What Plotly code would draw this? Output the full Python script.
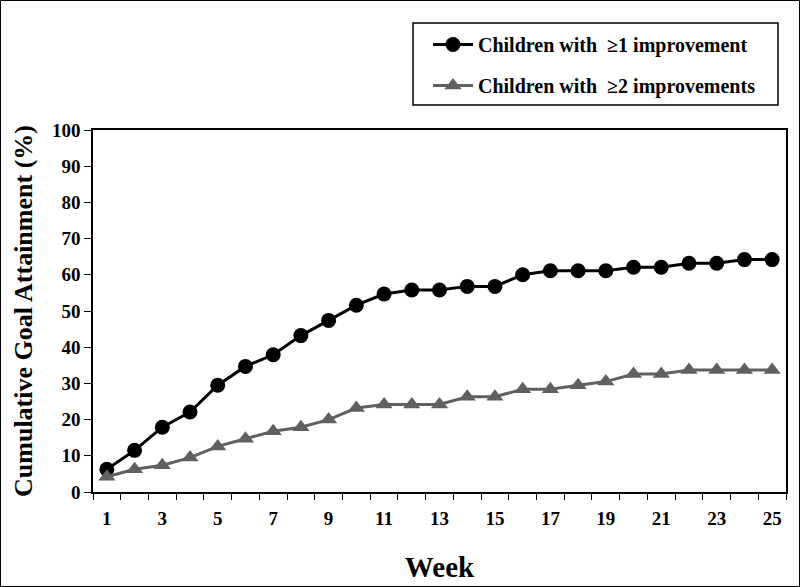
import plotly.graph_objects as go

weeks = list(range(1, 26))
one_improvement = [6.3, 11.5, 17.9, 22.1, 29.5, 34.7, 37.9, 43.2, 47.4, 51.6, 54.7, 55.8, 55.8,
                   56.8, 56.8, 60.0, 61.1, 61.1, 61.1, 62.1, 62.1, 63.2, 63.2, 64.2, 64.2]
two_improvements = [4.2, 6.3, 7.4, 9.5, 12.6, 14.7, 16.8, 17.9, 20.0, 23.2, 24.2, 24.2, 24.2,
                    26.3, 26.3, 28.4, 28.4, 29.5, 30.5, 32.6, 32.6, 33.7, 33.7, 33.7, 33.7]
series_names = ["Children with \u00a0\u22651 improvement", "Children with \u00a0\u22652 improvements"]
x_tick_labels = [str(w) for w in range(1, 26, 2)]
y_tick_vals = list(range(0, 101, 10))

FONT = "Liberation Serif"

fig = go.Figure()
fig.add_trace(go.Scatter(
    x=weeks, y=one_improvement, name=series_names[0], mode="lines+markers",
    line=dict(color="black", width=3),
    marker=dict(symbol="circle", size=15, color="black"),
    legendgroup="a",
))
fig.add_trace(go.Scatter(
    x=weeks, y=two_improvements, name=series_names[1], mode="lines+markers",
    line=dict(color="#606060", width=3),
    marker=dict(symbol="triangle-up", size=15, color="#606060"),
    legendgroup="b",
))

L, R, T, B = 93, 14, 130, 95
W, H = 800, 587
pw, ph = W - L - R, H - T - B

def px(x):
    return (x - L) / pw

def py(y):
    return (H - B - y) / ph

fig.update_layout(
    width=W, height=H,
    margin=dict(l=L, r=R, t=T, b=B, autoexpand=False),
    paper_bgcolor="white", plot_bgcolor="white",
    font=dict(family=FONT, color="black"),
    showlegend=True,
    legend=dict(
        x=px(428), y=py(25), xanchor="left", yanchor="top",
        borderwidth=0, bgcolor="rgba(0,0,0,0)",
        font=dict(family=FONT, size=20, color="black", weight="bold"),
        tracegroupgap=12, traceorder="grouped",
        itemwidth=40,
    ),
    xaxis=dict(
        range=[0.5, 25.5], automargin=False,
        tickmode="array", tickvals=list(range(1, 26, 2)), ticktext=x_tick_labels,
        ticks="", ticklen=0, ticklabelstandoff=8,
        minor=dict(tick0=0.5, dtick=1, ticks="outside", ticklen=6, tickcolor="black", tickwidth=1),
        showline=True, linecolor="black", linewidth=2, mirror=True,
        showgrid=False, zeroline=False,
        tickfont=dict(family=FONT, size=19, color="black", weight="bold"),
        title=dict(text="Week", font=dict(family=FONT, size=29, color="black", weight="bold"), standoff=29),
    ),
    yaxis=dict(
        range=[0, 100], automargin=False,
        tickmode="array", tickvals=y_tick_vals,
        ticks="outside", ticklen=7, tickcolor="black",
        showline=True, linecolor="black", linewidth=1.5, mirror=True,
        showgrid=False, zeroline=False,
        tickfont=dict(family=FONT, size=19, color="black", weight="bold"),
        title=dict(text="Cumulative Goal Attainment (%)", font=dict(family=FONT, size=26, color="black", weight="bold"), standoff=12),
    ),
    shapes=[
        dict(type="rect", xref="paper", yref="paper",
             x0=px(0.5), x1=px(799.5), y0=py(586.5), y1=py(0.5),
             line=dict(color="black", width=1), layer="above"),
        dict(type="rect", xref="paper", yref="paper",
             x0=px(413), x1=px(778), y0=py(105), y1=py(23),
             line=dict(color="black", width=1.5), layer="below"),
    ],
)

fig.write_html("out.html", config={"displayModeBar": False},
               post_script="document.body.style.margin='0';document.body.style.overflow='hidden';")
